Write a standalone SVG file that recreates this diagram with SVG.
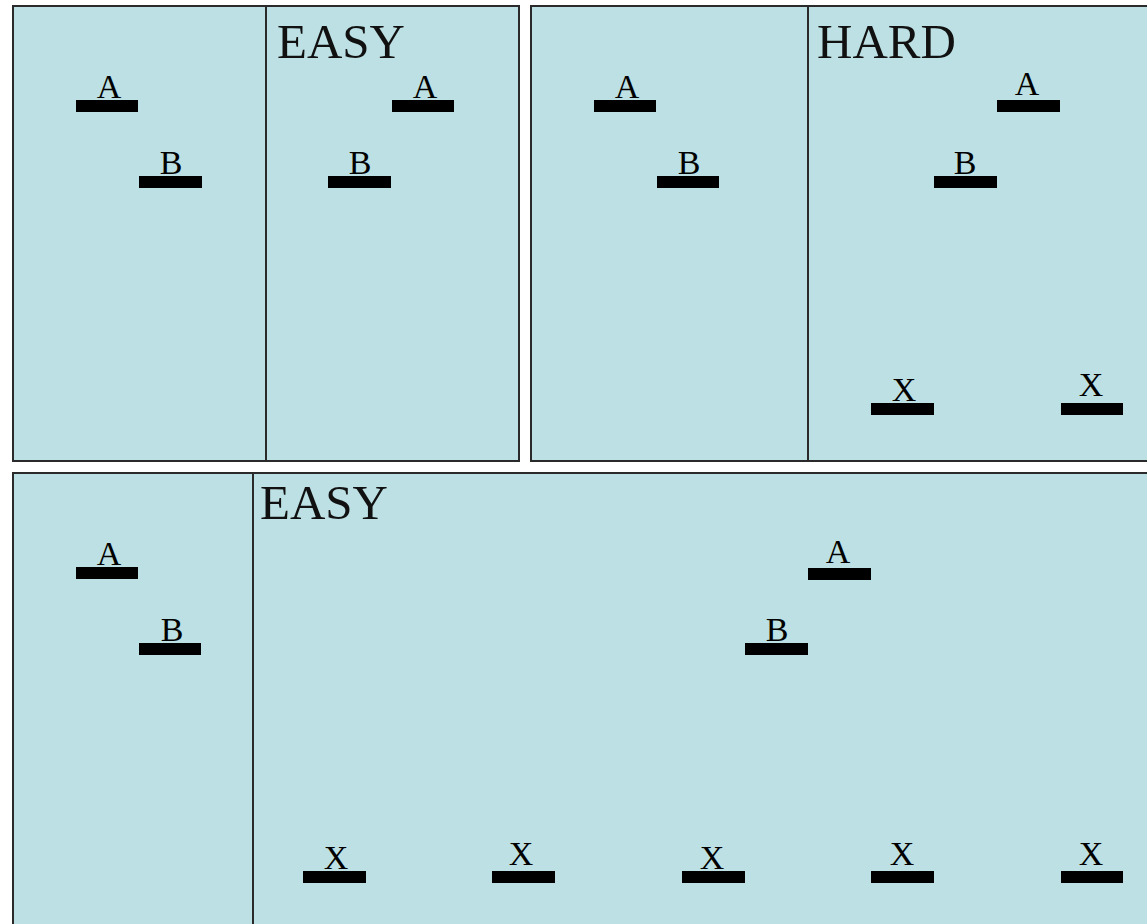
<svg xmlns="http://www.w3.org/2000/svg" width="1147" height="924" viewBox="0 0 1147 924">
<style>
.panel{fill:#bce0e3;stroke:#2a2a2a;stroke-width:2}
.div{stroke:#2a2a2a;stroke-width:2}
.bar{fill:#000}
.lbl{font-family:"Liberation Serif","Times New Roman",serif;font-size:34px;fill:#000;text-anchor:middle}
.title{font-family:"Liberation Serif","Times New Roman",serif;font-size:49px;fill:#111}
</style>
<rect width="1147" height="924" fill="#ffffff"/>
<g id="panel-top-left">
<rect class="panel" x="13" y="6" width="506" height="455"/>
<line class="div" x1="266" y1="6" x2="266" y2="461"/>
<text class="title" x="277" y="58">EASY</text>
</g>
<g id="panel-top-right">
<rect class="panel" x="531" y="6" width="620" height="455"/>
<line class="div" x1="808" y1="6" x2="808" y2="461"/>
<text class="title" x="817" y="58">HARD</text>
</g>
<g id="panel-bottom">
<rect class="panel" x="13" y="473" width="1138" height="460"/>
<line class="div" x1="253" y1="473" x2="253" y2="924"/>
<text class="title" x="260" y="519">EASY</text>
</g>
<g id="tl-A"><rect class="bar" x="76" y="100" width="62" height="12"/><text class="lbl" x="109" y="98">A</text></g>
<g id="tl-B"><rect class="bar" x="139" y="176" width="63" height="12"/><text class="lbl" x="171" y="174">B</text></g>
<g id="te-A"><rect class="bar" x="392" y="100" width="62" height="12"/><text class="lbl" x="425" y="98">A</text></g>
<g id="te-B"><rect class="bar" x="328" y="176" width="63" height="12"/><text class="lbl" x="360" y="174">B</text></g>
<g id="tr-A"><rect class="bar" x="594" y="100" width="62" height="12"/><text class="lbl" x="627" y="98">A</text></g>
<g id="tr-B"><rect class="bar" x="657" y="176" width="62" height="12"/><text class="lbl" x="689" y="174">B</text></g>
<g id="th-A"><rect class="bar" x="997" y="100" width="63" height="12"/><text class="lbl" x="1027" y="95">A</text></g>
<g id="th-B"><rect class="bar" x="934" y="176" width="63" height="12"/><text class="lbl" x="965" y="174">B</text></g>
<g id="th-X1"><rect class="bar" x="871" y="403" width="63" height="12"/><text class="lbl" x="904" y="401">X</text></g>
<g id="th-X2"><rect class="bar" x="1061" y="403" width="62" height="12"/><text class="lbl" x="1091" y="396">X</text></g>
<g id="bl-A"><rect class="bar" x="76" y="567" width="62" height="12"/><text class="lbl" x="109" y="565">A</text></g>
<g id="bl-B"><rect class="bar" x="139" y="643" width="62" height="12"/><text class="lbl" x="172" y="641">B</text></g>
<g id="be-A"><rect class="bar" x="808" y="568" width="63" height="12"/><text class="lbl" x="838" y="563">A</text></g>
<g id="be-B"><rect class="bar" x="745" y="643" width="63" height="12"/><text class="lbl" x="777" y="641">B</text></g>
<g id="be-X1"><rect class="bar" x="303" y="871" width="63" height="12"/><text class="lbl" x="336" y="869">X</text></g>
<g id="be-X2"><rect class="bar" x="492" y="871" width="63" height="12"/><text class="lbl" x="521" y="865">X</text></g>
<g id="be-X3"><rect class="bar" x="682" y="871" width="63" height="12"/><text class="lbl" x="712" y="869">X</text></g>
<g id="be-X4"><rect class="bar" x="871" y="871" width="63" height="12"/><text class="lbl" x="902" y="865">X</text></g>
<g id="be-X5"><rect class="bar" x="1061" y="871" width="62" height="12"/><text class="lbl" x="1091" y="865">X</text></g>
<g id="connectors"></g>
</svg>
